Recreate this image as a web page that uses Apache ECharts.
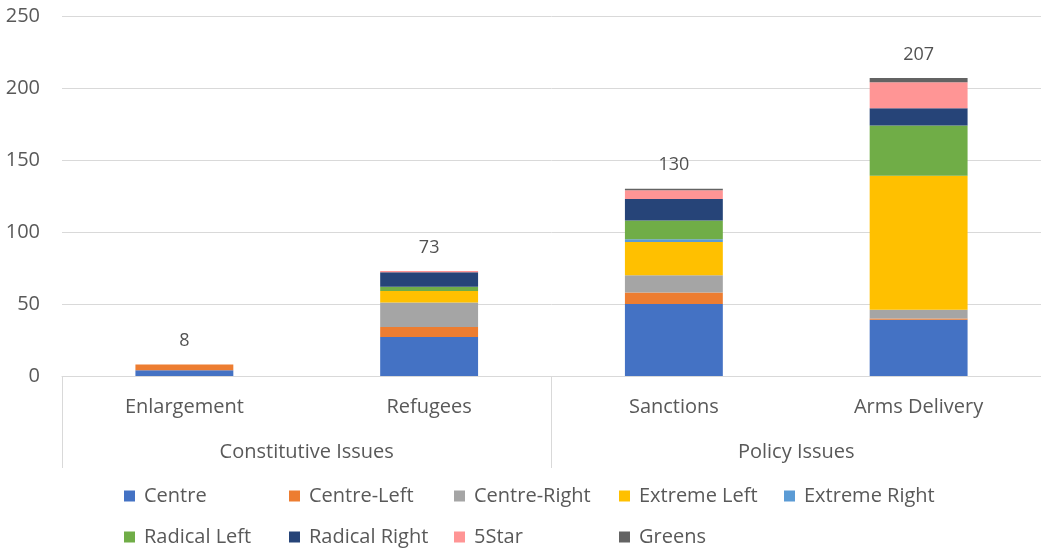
<!DOCTYPE html>
<html>
<head>
<meta charset="utf-8">
<script src="https://cdn.jsdelivr.net/npm/echarts@6/dist/echarts.min.js"></script>
<style>
html,body{margin:0;padding:0;background:#fff;}
#c{width:1041px;height:552px;}
</style>
</head>
<body>
<div id="c"></div>
<script>
var categories = ['Enlargement', 'Refugees', 'Sanctions', 'Arms Delivery'];
var groups = ['Constitutive Issues', 'Policy Issues'];
var seriesNames = ['Centre', 'Centre-Left', 'Centre-Right', 'Extreme Left', 'Extreme Right', 'Radical Left', 'Radical Right', '5Star', 'Greens'];
var centre = [4, 27, 50, 39];
var centreLeft = [4, 7, 8, 1];
var centreRight = [0, 17, 12, 6];
var extremeLeft = [0, 8, 23, 93];
var extremeRight = [0, 0, 2, 0];
var radicalLeft = [0, 3, 13, 35];
var radicalRight = [0, 10, 15, 12];
var fiveStar = [0, 1, 6, 18];
var greens = [0, 0, 1, 3];
var yTicks = [0, 50, 100, 150, 200, 250];

var seriesData = [centre, centreLeft, centreRight, extremeLeft, extremeRight, radicalLeft, radicalRight, fiveStar, greens];
var colors = ['#4472C4', '#ED7D31', '#A5A5A5', '#FFC000', '#5B9BD5', '#70AD47', '#264478', '#FF9595', '#636363'];
var totals = categories.map(function (c, i) {
  return seriesData.reduce(function (s, arr) { return s + arr[i]; }, 0);
});

var FONT = '"Open Sans", sans-serif';
var TXT = '#595959';
var FS = 20;

var series = seriesNames.map(function (n, k) {
  return {
    name: n, type: 'bar', stack: 'all', barWidth: '40%',
    itemStyle: { color: colors[k] },
    data: seriesData[k]
  };
});
series.push({
  name: 'Total', type: 'scatter', symbolSize: 1,
  itemStyle: { color: 'rgba(0,0,0,0)' },
  label: { show: true, position: 'top', distance: 14, color: '#262626', fontSize: 18, fontFamily: FONT },
  data: totals, z: 10
});

var legendCols = [
  { left: 124, data: ['Centre', 'Radical Left'] },
  { left: 289, data: ['Centre-Left', 'Radical Right'] },
  { left: 454, data: ['Centre-Right', '5Star'] },
  { left: 619, data: ['Extreme Left', 'Greens'] },
  { left: 784, data: ['Extreme Right'] }
];
var legends = legendCols.map(function (c) {
  return {
    orient: 'vertical', left: c.left, top: 486, itemGap: 21, padding: 0, height: 66,
    itemWidth: 11, itemHeight: 11, icon: 'rect',
    textStyle: { color: TXT, fontSize: FS, fontFamily: FONT, padding: [0, 0, 0, 4] },
    data: c.data
  };
});

var chart = echarts.init(document.getElementById('c'));
chart.setOption({
  animation: false,
  textStyle: { fontFamily: FONT },
  grid: { left: 62, top: 16, width: 982, height: 360 },
  legend: legends,
  xAxis: [
    {
      type: 'category', data: categories,
      axisLine: { lineStyle: { color: '#d9d9d9' } },
      axisTick: { show: false },
      axisLabel: { color: TXT, fontSize: FS, fontFamily: FONT, margin: 21 }
    },
    {
      type: 'category', data: groups, position: 'bottom',
      axisLine: { show: false },
      axisTick: { show: true, length: 92, lineStyle: { color: '#d9d9d9' } },
      axisLabel: { color: TXT, fontSize: FS, fontFamily: FONT, margin: 66 },
      splitLine: { show: false }
    }
  ],
  yAxis: {
    type: 'value', min: yTicks[0], max: yTicks[yTicks.length - 1], interval: 50,
    axisLine: { show: false }, axisTick: { show: false },
    splitLine: { lineStyle: { color: '#d9d9d9' } },
    axisLabel: { color: TXT, fontSize: FS, fontFamily: FONT, margin: 22 }
  },
  series: series
});
</script>
</body>
</html>
